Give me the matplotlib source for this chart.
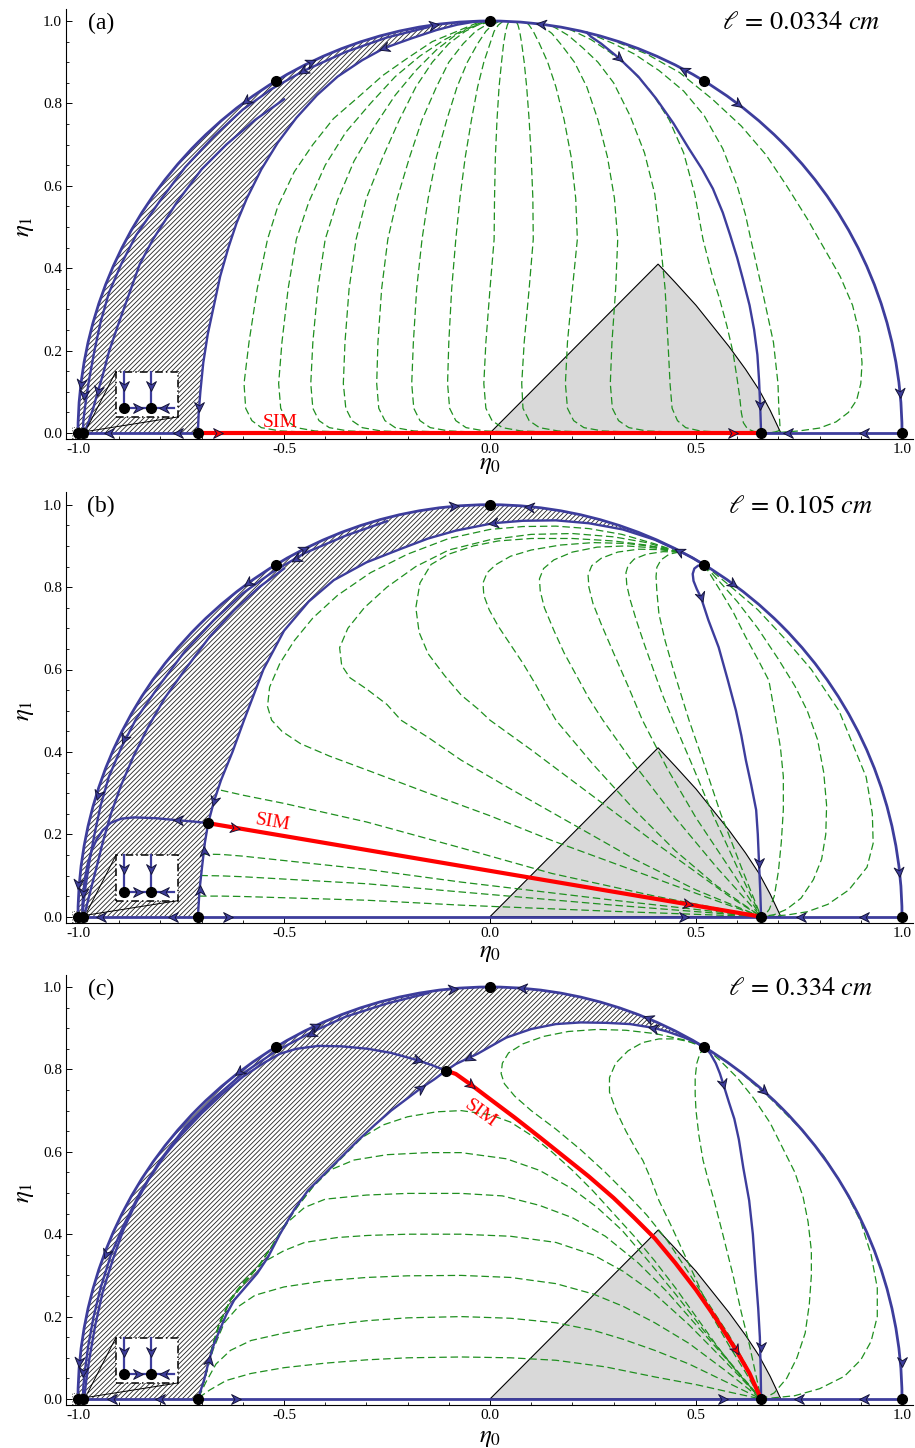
import numpy as np
import matplotlib
matplotlib.use('Agg')
import matplotlib.pyplot as plt
from matplotlib.path import Path
from matplotlib.patches import PathPatch, Arc, Rectangle, Polygon
from matplotlib.markers import MarkerStyle
from matplotlib.transforms import Affine2D
from matplotlib.ticker import MultipleLocator

plt.rcParams['font.family'] = ['Liberation Serif', 'DejaVu Serif']
plt.rcParams['mathtext.fontset'] = 'stix'
plt.rcParams['axes.unicode_minus'] = False
plt.rcParams['hatch.linewidth'] = 0.6

BLUE = '#3d3d9c'
GREEN = '#1f8f1f'
RED = '#ff0000'

# ---------------- data ----------------
panel_tags = ['(a)', '(b)', '(c)']
ell_labels = [r'$\ell\,=\,0.0334\ cm$', r'$\ell\,=\,0.105\ cm$', r'$\ell\,=\,0.334\ cm$']
xticks = [-1.0, -0.5, 0.0, 0.5, 1.0]
yticks = [0.0, 0.2, 0.4, 0.6, 0.8, 1.0]
xlabel_y = [-0.078, -0.088, -0.094]

fixed_common = [(-1.0, 0.0), (-0.988, 0.0), (-0.709, 0.0), (0.658, 0.0), (1.0, 0.0),
                (-0.52, 0.854), (0.0, 1.0), (0.52, 0.854)]
sim_start = [None, (-0.684, 0.227), (-0.107, 0.797)]
hatch_start_deg = [90.0, 58.7, 58.5]

# ----- panel (a) -----
a_D = [(0.0, 1.0), (-0.04, 0.998), (-0.08, 0.991), (-0.13, 0.978), (-0.19, 0.958),
       (-0.257, 0.934), (-0.31, 0.905), (-0.37, 0.865), (-0.42, 0.82), (-0.47, 0.765),
       (-0.515, 0.705), (-0.555, 0.64), (-0.59, 0.57), (-0.615, 0.51), (-0.635, 0.45),
       (-0.655, 0.38), (-0.67, 0.31), (-0.685, 0.24), (-0.696, 0.17), (-0.703, 0.1),
       (-0.707, 0.05), (-0.709, 0.0)]
a_B = [(-0.15, 0.985), (-0.25, 0.96), (-0.35, 0.925), (-0.454, 0.878), (-0.53, 0.835),
       (-0.6, 0.785), (-0.67, 0.72), (-0.74, 0.645), (-0.8, 0.565), (-0.859, 0.48),
       (-0.895, 0.41), (-0.925, 0.34), (-0.945, 0.27), (-0.96, 0.2), (-0.973, 0.13),
       (-0.982, 0.07), (-0.987, 0.03), (-0.988, 0.0)]
a_C = [(-0.5, 0.81), (-0.57, 0.76), (-0.64, 0.7), (-0.7, 0.64), (-0.76, 0.56),
       (-0.818, 0.47), (-0.85, 0.41), (-0.875, 0.34), (-0.9, 0.27), (-0.924, 0.2),
       (-0.94, 0.14), (-0.952, 0.1), (-0.963, 0.06), (-0.975, 0.025), (-0.985, 0.0)]
a_E = [(0.235, 0.972), (0.245, 0.962), (0.27, 0.945), (0.313, 0.91), (0.36, 0.865),
       (0.403, 0.812), (0.445, 0.752), (0.483, 0.69), (0.515, 0.64), (0.541, 0.593),
       (0.565, 0.535), (0.583, 0.48), (0.6, 0.425), (0.614, 0.373), (0.63, 0.31),
       (0.641, 0.251), (0.649, 0.19), (0.653, 0.129), (0.656, 0.06), (0.658, 0.0)]
a_sim = [(-0.709, 0.0), (0.658, 0.0)]
a_green = [
    [(-0.03, 0.996), (-0.08, 0.975), (-0.14, 0.95), (-0.2, 0.91), (-0.26, 0.868), (-0.32, 0.815), (-0.38, 0.763), (-0.43, 0.70), (-0.475, 0.634), (-0.515, 0.55), (-0.54, 0.47), (-0.565, 0.35), (-0.585, 0.22), (-0.597, 0.12), (-0.593, 0.06), (-0.578, 0.03), (-0.555, 0.013), (-0.51, 0.005), (-0.44, 0.002), (-0.3, 0.001)],
    [(-0.02, 0.997), (-0.06, 0.98), (-0.11, 0.955), (-0.17, 0.915), (-0.23, 0.865), (-0.29, 0.80), (-0.35, 0.73), (-0.40, 0.65), (-0.44, 0.56), (-0.47, 0.47), (-0.49, 0.35), (-0.505, 0.22), (-0.513, 0.12), (-0.508, 0.06), (-0.493, 0.03), (-0.47, 0.013), (-0.425, 0.005), (-0.35, 0.002), (-0.2, 0.001)],
    [(-0.01, 0.998), (-0.045, 0.985), (-0.085, 0.965), (-0.13, 0.93), (-0.18, 0.88), (-0.23, 0.82), (-0.28, 0.745), (-0.33, 0.66), (-0.37, 0.565), (-0.40, 0.47), (-0.418, 0.35), (-0.43, 0.22), (-0.435, 0.12), (-0.43, 0.06), (-0.415, 0.03), (-0.39, 0.013), (-0.345, 0.005), (-0.27, 0.002), (-0.1, 0.001)],
    [(0.0, 0.998), (-0.03, 0.99), (-0.06, 0.975), (-0.1, 0.945), (-0.14, 0.9), (-0.18, 0.84), (-0.22, 0.76), (-0.26, 0.67), (-0.30, 0.57), (-0.325, 0.47), (-0.342, 0.35), (-0.352, 0.22), (-0.356, 0.12), (-0.35, 0.06), (-0.335, 0.03), (-0.31, 0.013), (-0.265, 0.005), (-0.19, 0.002), (0.0, 0.001)],
    [(0.01, 0.998), (-0.01, 0.99), (-0.035, 0.975), (-0.065, 0.945), (-0.10, 0.9), (-0.13, 0.84), (-0.165, 0.76), (-0.195, 0.67), (-0.225, 0.57), (-0.248, 0.47), (-0.263, 0.35), (-0.272, 0.22), (-0.275, 0.12), (-0.27, 0.06), (-0.255, 0.03), (-0.23, 0.013), (-0.185, 0.005), (-0.11, 0.002), (0.1, 0.001)],
    [(0.02, 0.998), (0.005, 0.99), (-0.01, 0.975), (-0.03, 0.945), (-0.055, 0.9), (-0.08, 0.84), (-0.105, 0.76), (-0.13, 0.67), (-0.15, 0.57), (-0.165, 0.47), (-0.178, 0.35), (-0.186, 0.22), (-0.19, 0.12), (-0.185, 0.06), (-0.17, 0.03), (-0.145, 0.013), (-0.1, 0.005), (-0.03, 0.002), (0.2, 0.001)],
    [(0.03, 0.998), (0.02, 0.99), (0.01, 0.975), (0.0, 0.945), (-0.015, 0.9), (-0.03, 0.84), (-0.045, 0.76), (-0.06, 0.67), (-0.073, 0.57), (-0.083, 0.47), (-0.093, 0.35), (-0.1, 0.22), (-0.103, 0.12), (-0.098, 0.06), (-0.083, 0.03), (-0.058, 0.013), (-0.013, 0.005), (0.06, 0.002), (0.3, 0.001)],
    [(0.045, 0.997), (0.042, 0.99), (0.038, 0.975), (0.033, 0.945), (0.028, 0.9), (0.022, 0.84), (0.017, 0.76), (0.013, 0.67), (0.011, 0.57), (0.01, 0.47), (0.0, 0.35), (-0.01, 0.22), (-0.015, 0.12), (-0.01, 0.06), (0.005, 0.03), (0.03, 0.013), (0.075, 0.005), (0.15, 0.002), (0.4, 0.001)],
    [(0.065, 0.996), (0.068, 0.99), (0.072, 0.975), (0.077, 0.945), (0.083, 0.9), (0.089, 0.84), (0.095, 0.76), (0.1, 0.67), (0.104, 0.57), (0.105, 0.47), (0.095, 0.35), (0.083, 0.22), (0.077, 0.12), (0.08, 0.06), (0.095, 0.03), (0.12, 0.013), (0.165, 0.005), (0.24, 0.002), (0.5, 0.001)],
    [(0.09, 0.995), (0.095, 0.99), (0.105, 0.975), (0.12, 0.945), (0.14, 0.9), (0.16, 0.84), (0.18, 0.76), (0.197, 0.67), (0.208, 0.57), (0.212, 0.47), (0.2, 0.35), (0.188, 0.22), (0.183, 0.12), (0.188, 0.06), (0.203, 0.03), (0.228, 0.013), (0.273, 0.005), (0.35, 0.002), (0.6, 0.001)],
    [(0.12, 0.992), (0.13, 0.985), (0.15, 0.97), (0.175, 0.94), (0.205, 0.9), (0.235, 0.84), (0.262, 0.76), (0.285, 0.67), (0.302, 0.57), (0.31, 0.47), (0.305, 0.35), (0.296, 0.22), (0.292, 0.12), (0.297, 0.06), (0.312, 0.03), (0.337, 0.013), (0.38, 0.005), (0.45, 0.002), (0.62, 0.001)],
    [(0.15, 0.988), (0.165, 0.98), (0.19, 0.965), (0.225, 0.935), (0.262, 0.9), (0.3, 0.85), (0.34, 0.77), (0.375, 0.68), (0.4, 0.58), (0.413, 0.47), (0.425, 0.35), (0.432, 0.22), (0.437, 0.12), (0.442, 0.06), (0.455, 0.03), (0.475, 0.013), (0.51, 0.005), (0.56, 0.002), (0.64, 0.001)],
    [(0.19, 0.981), (0.21, 0.972), (0.245, 0.955), (0.29, 0.925), (0.34, 0.885), (0.39, 0.83), (0.435, 0.76), (0.47, 0.68), (0.497, 0.58), (0.517, 0.47), (0.54, 0.38), (0.556, 0.33), (0.575, 0.26), (0.59, 0.195), (0.6, 0.13), (0.606, 0.088), (0.61, 0.05), (0.615, 0.025), (0.625, 0.01), (0.64, 0.004), (0.655, 0.001)],
    [(0.26, 0.962), (0.3, 0.945), (0.35, 0.92), (0.41, 0.88), (0.47, 0.83), (0.52, 0.77), (0.565, 0.69), (0.6, 0.6), (0.62, 0.53), (0.633, 0.47), (0.66, 0.35), (0.688, 0.22), (0.699, 0.12), (0.701, 0.06), (0.703, 0.03), (0.704, 0.013), (0.70, 0.005), (0.69, 0.002), (0.675, 0.001)],
    [(0.31, 0.948), (0.38, 0.92), (0.46, 0.875), (0.54, 0.81), (0.61, 0.745), (0.67, 0.675), (0.72, 0.6), (0.77, 0.52), (0.81, 0.45), (0.85, 0.38), (0.88, 0.31), (0.897, 0.24), (0.903, 0.17), (0.9, 0.12), (0.89, 0.08), (0.87, 0.05), (0.84, 0.027), (0.8, 0.012), (0.75, 0.005), (0.71, 0.002), (0.68, 0.001)],
]
a_arrows = [(-0.136, 0.991, 8), (-0.434, 0.901, 26), (-0.592, 0.806, 216), (-0.454, 0.878, 212),
            (-0.257, 0.934, 200), (0.124, 0.992, 173), (0.313, 0.91, -40), (0.471, 0.882, 152),
            (0.602, 0.798, -37), (0.655, 0.068, -90), (0.995, 0.098, -86), (0.723, 0.0, 180),
            (0.908, 0.0, 180), (-0.924, 0.0, 180), (-0.757, 0.0, 180), (-0.706, 0.063, -90),
            (-0.993, 0.12, -97), (-0.985, 0.093, -95), (-0.952, 0.102, -100)]
a_red_arrows = [(-0.66, 0.0, 0), (0.59, 0.0, 0)]
a_sim_label = (-0.51, 0.026, 0)

# ----- panel (b) -----
b_D = [(0.52, 0.854), (0.49, 0.872), (0.459, 0.888), (0.4, 0.915), (0.322, 0.94),
       (0.24, 0.955), (0.16, 0.962), (0.08, 0.961), (0.007, 0.955), (-0.083, 0.937),
       (-0.15, 0.918), (-0.216, 0.893), (-0.3, 0.86), (-0.379, 0.817), (-0.44, 0.765),
       (-0.5, 0.694), (-0.55, 0.6), (-0.597, 0.477), (-0.625, 0.4), (-0.653, 0.331),
       (-0.67, 0.28), (-0.684, 0.227), (-0.692, 0.18), (-0.699, 0.12), (-0.705, 0.065),
       (-0.709, 0.0)]
b_B = [(-0.25, 0.96), (-0.35, 0.925), (-0.451, 0.882), (-0.53, 0.835), (-0.6, 0.785),
       (-0.67, 0.72), (-0.74, 0.645), (-0.8, 0.565), (-0.859, 0.48), (-0.895, 0.41),
       (-0.925, 0.34), (-0.945, 0.27), (-0.96, 0.2), (-0.973, 0.13), (-0.982, 0.07),
       (-0.987, 0.03), (-0.988, 0.0)]
b_C = [(-0.5, 0.845), (-0.56, 0.8), (-0.62, 0.745), (-0.68, 0.68), (-0.74, 0.6),
       (-0.79, 0.53), (-0.83, 0.46), (-0.865, 0.39), (-0.895, 0.32), (-0.92, 0.25),
       (-0.94, 0.18), (-0.955, 0.12), (-0.968, 0.07), (-0.978, 0.03), (-0.985, 0.0)]
b_F = [(-0.684, 0.227), (-0.72, 0.231), (-0.757, 0.234), (-0.81, 0.239), (-0.864, 0.241),
       (-0.895, 0.238), (-0.92, 0.228), (-0.94, 0.21), (-0.955, 0.187), (-0.967, 0.16),
       (-0.976, 0.13), (-0.983, 0.095), (-0.987, 0.06), (-0.989, 0.03), (-0.99, 0.0)]
b_E = [(0.52, 0.854), (0.505, 0.852), (0.496, 0.845), (0.492, 0.832), (0.494, 0.815),
       (0.502, 0.795), (0.512, 0.775), (0.53, 0.72), (0.555, 0.654), (0.577, 0.575),
       (0.597, 0.5), (0.61, 0.44), (0.621, 0.38), (0.634, 0.32), (0.646, 0.259),
       (0.65, 0.2), (0.653, 0.13), (0.656, 0.06), (0.658, 0.0)]
b_sim = [(-0.684, 0.227), (0.658, 0.0)]
b_green = [
    [(0.459, 0.885), (0.4, 0.905), (0.32, 0.928), (0.24, 0.942), (0.16, 0.948), (0.08, 0.947), (0.0, 0.94), (-0.1, 0.918), (-0.2, 0.88), (-0.29, 0.835), (-0.37, 0.78), (-0.43, 0.725), (-0.475, 0.67), (-0.51, 0.615), (-0.535, 0.557), (-0.54, 0.51), (-0.53, 0.477), (-0.505, 0.45), (-0.46, 0.42), (-0.39, 0.39), (-0.296, 0.355), (-0.15, 0.3), (0.0, 0.245), (0.15, 0.185), (0.3, 0.13), (0.45, 0.075), (0.56, 0.035), (0.658, 0.0)],
    [(0.459, 0.885), (0.38, 0.908), (0.3, 0.922), (0.2, 0.93), (0.1, 0.928), (0.0, 0.915), (-0.1, 0.89), (-0.18, 0.85), (-0.25, 0.8), (-0.305, 0.75), (-0.345, 0.7), (-0.365, 0.653), (-0.36, 0.61), (-0.34, 0.58), (-0.3, 0.553), (-0.25, 0.515), (-0.216, 0.477), (-0.15, 0.435), (-0.07, 0.38), (0.05, 0.31), (0.2, 0.225), (0.35, 0.14), (0.5, 0.065), (0.658, 0.0)],
    [(0.459, 0.885), (0.38, 0.902), (0.3, 0.912), (0.2, 0.918), (0.1, 0.918), (0.02, 0.912), (-0.04, 0.9), (-0.1, 0.88), (-0.143, 0.855), (-0.17, 0.81), (-0.18, 0.75), (-0.172, 0.69), (-0.15, 0.638), (-0.11, 0.585), (-0.07, 0.538), (-0.03, 0.505), (0.0, 0.477), (0.1, 0.405), (0.2, 0.33), (0.3, 0.255), (0.4, 0.18), (0.5, 0.108), (0.58, 0.05), (0.658, 0.0)],
    [(0.459, 0.885), (0.4, 0.898), (0.33, 0.906), (0.25, 0.908), (0.17, 0.902), (0.1, 0.89), (0.05, 0.875), (0.015, 0.855), (-0.007, 0.835), (-0.017, 0.81), (-0.015, 0.78), (-0.002, 0.745), (0.02, 0.705), (0.05, 0.66), (0.08, 0.615), (0.11, 0.565), (0.135, 0.52), (0.16, 0.477), (0.25, 0.37), (0.35, 0.26), (0.45, 0.16), (0.55, 0.075), (0.658, 0.0)],
    [(0.459, 0.885), (0.4, 0.895), (0.33, 0.9), (0.26, 0.897), (0.2, 0.885), (0.155, 0.866), (0.13, 0.845), (0.12, 0.82), (0.122, 0.79), (0.132, 0.75), (0.155, 0.695), (0.18, 0.64), (0.21, 0.585), (0.24, 0.53), (0.274, 0.477), (0.35, 0.37), (0.45, 0.24), (0.55, 0.12), (0.658, 0.0)],
    [(0.459, 0.885), (0.41, 0.891), (0.36, 0.892), (0.31, 0.885), (0.27, 0.87), (0.247, 0.852), (0.238, 0.83), (0.24, 0.8), (0.25, 0.76), (0.27, 0.71), (0.3, 0.64), (0.335, 0.56), (0.37, 0.477), (0.43, 0.36), (0.5, 0.24), (0.58, 0.12), (0.658, 0.0)],
    [(0.459, 0.885), (0.42, 0.886), (0.38, 0.88), (0.35, 0.868), (0.335, 0.852), (0.33, 0.835), (0.332, 0.805), (0.34, 0.77), (0.355, 0.72), (0.375, 0.66), (0.4, 0.59), (0.42, 0.535), (0.444, 0.477), (0.49, 0.37), (0.54, 0.25), (0.6, 0.12), (0.658, 0.0)],
    [(0.459, 0.885), (0.435, 0.88), (0.415, 0.866), (0.405, 0.848), (0.403, 0.825), (0.405, 0.79), (0.41, 0.735), (0.425, 0.67), (0.445, 0.6), (0.465, 0.535), (0.483, 0.477), (0.52, 0.37), (0.56, 0.25), (0.61, 0.12), (0.658, 0.0)],
    [(-0.653, 0.307), (-0.6, 0.295), (-0.5, 0.275), (-0.3, 0.23), (-0.07, 0.167), (0.15, 0.105), (0.4, 0.05), (0.658, 0.0)],
    [(-0.70, 0.152), (-0.65, 0.151), (-0.6, 0.147), (-0.3, 0.115), (-0.07, 0.084), (0.3, 0.04), (0.658, 0.0)],
    [(-0.703, 0.10), (-0.65, 0.099), (-0.6, 0.097), (-0.3, 0.08), (-0.07, 0.06), (0.3, 0.028), (0.658, 0.0)],
    [(-0.706, 0.05), (-0.65, 0.05), (-0.6, 0.049), (-0.3, 0.04), (-0.07, 0.028), (0.3, 0.013), (0.658, 0.0)],
    [(0.52, 0.854), (0.535, 0.83), (0.56, 0.79), (0.59, 0.74), (0.62, 0.68), (0.65, 0.625), (0.677, 0.573), (0.694, 0.477), (0.705, 0.41), (0.712, 0.34), (0.712, 0.26), (0.707, 0.18), (0.7, 0.11), (0.69, 0.05), (0.678, 0.018), (0.668, 0.005), (0.658, 0.0)],
    [(0.52, 0.854), (0.56, 0.81), (0.6, 0.765), (0.65, 0.7), (0.7, 0.625), (0.74, 0.56), (0.77, 0.5), (0.795, 0.43), (0.81, 0.35), (0.817, 0.27), (0.815, 0.2), (0.805, 0.14), (0.785, 0.09), (0.755, 0.045), (0.72, 0.018), (0.69, 0.005), (0.66, 0.0)],
    [(0.52, 0.854), (0.58, 0.805), (0.65, 0.745), (0.72, 0.67), (0.78, 0.6), (0.82, 0.54), (0.847, 0.5), (0.88, 0.42), (0.913, 0.339), (0.928, 0.25), (0.93, 0.178), (0.915, 0.12), (0.871, 0.065), (0.82, 0.03), (0.77, 0.012), (0.72, 0.004), (0.66, 0.0)],
]
b_arrows = [(-0.587, 0.81, 216), (-0.451, 0.892, 27), (-0.471, 0.869, 210), (-0.087, 0.996, 5),
            (0.095, 0.995, 175), (0.007, 0.955, 188), (0.459, 0.888, 153), (0.59, 0.807, -36),
            (0.512, 0.775, -72), (-0.888, 0.432, 245), (-0.952, 0.295, 255), (-1.0, 0.08, -95),
            (-0.988, 0.058, -95), (-0.67, 0.28, -105), (-0.757, 0.234, 178), (-0.694, 0.16, 95),
            (-0.705, 0.065, 90), (-0.944, 0.0, 180), (-0.77, 0.0, 180), (-0.636, 0.0, 0),
            (0.47, 0.0, 0), (0.755, 0.0, 180), (0.908, 0.0, 180), (0.653, 0.13, -90),
            (0.993, 0.108, -85)]
b_red_arrows = [(-0.62, 0.216, -9.6), (0.48, 0.030, -9.6)]
b_sim_label = (-0.528, 0.228, -9.6)

# ----- panel (c) -----
c_D = [(0.524, 0.852), (0.5, 0.865), (0.47, 0.878), (0.43, 0.892), (0.396, 0.901),
       (0.34, 0.91), (0.282, 0.913), (0.22, 0.914), (0.16, 0.91), (0.1, 0.898),
       (0.039, 0.877), (0.0, 0.855), (-0.03, 0.838), (-0.051, 0.828), (-0.083, 0.813),
       (-0.107, 0.797)]
c_G = [(-0.107, 0.797), (-0.135, 0.776), (-0.167, 0.755), (-0.2, 0.73), (-0.24, 0.70),
       (-0.28, 0.665), (-0.32, 0.628), (-0.36, 0.588), (-0.4, 0.548), (-0.442, 0.506),
       (-0.475, 0.46), (-0.51, 0.4), (-0.539, 0.344), (-0.565, 0.305), (-0.595, 0.27),
       (-0.621, 0.24), (-0.64, 0.205), (-0.655, 0.17), (-0.67, 0.133), (-0.682, 0.094),
       (-0.694, 0.046), (-0.709, 0.0)]
c_B = [(-0.15, 0.985), (-0.25, 0.96), (-0.35, 0.928), (-0.434, 0.89), (-0.52, 0.844),
       (-0.6, 0.79), (-0.67, 0.73), (-0.74, 0.66), (-0.8, 0.58), (-0.85, 0.5),
       (-0.89, 0.42), (-0.92, 0.35), (-0.945, 0.27), (-0.962, 0.2), (-0.975, 0.13),
       (-0.983, 0.07), (-0.987, 0.03), (-0.988, 0.0)]
c_F = [(-0.107, 0.797), (-0.14, 0.81), (-0.175, 0.822), (-0.24, 0.84), (-0.296, 0.85),
       (-0.36, 0.856), (-0.417, 0.857), (-0.47, 0.85), (-0.51, 0.838), (-0.55, 0.815),
       (-0.6, 0.782), (-0.65, 0.74), (-0.7, 0.693), (-0.75, 0.64), (-0.79, 0.59),
       (-0.83, 0.53), (-0.86, 0.475), (-0.89, 0.41), (-0.915, 0.34), (-0.94, 0.26),
       (-0.958, 0.18), (-0.972, 0.1), (-0.98, 0.045), (-0.985, 0.0)]
c_E = [(0.524, 0.852), (0.535, 0.838), (0.548, 0.815), (0.558, 0.79), (0.566, 0.765),
       (0.58, 0.72), (0.593, 0.68), (0.604, 0.63), (0.615, 0.56), (0.629, 0.482),
       (0.638, 0.4), (0.645, 0.3), (0.651, 0.22), (0.655, 0.15), (0.657, 0.07), (0.658, 0.0)]
c_sim = [(-0.107, 0.797), (-0.083, 0.789), (-0.045, 0.762), (0.0, 0.728), (0.06, 0.683),
         (0.12, 0.636), (0.18, 0.588), (0.24, 0.54), (0.3, 0.488), (0.35, 0.44),
         (0.4, 0.39), (0.45, 0.33), (0.5, 0.265), (0.55, 0.193), (0.597, 0.119),
         (0.63, 0.062), (0.658, 0.0)]
c_lower = [(-0.707, 0.004), (-0.692, 0.05), (-0.676, 0.12), (-0.658, 0.18), (-0.63, 0.24),
           (-0.598, 0.28), (-0.56, 0.325), (-0.53, 0.37), (-0.5, 0.42), (-0.465, 0.47),
           (-0.43, 0.515), (-0.39, 0.555)]
c_green = [
    [(-0.707, 0.003), (-0.68, 0.022), (-0.64, 0.045), (-0.58, 0.062), (-0.5, 0.076), (-0.4, 0.087), (-0.3, 0.095), (-0.2, 0.1), (-0.07, 0.102), (0.05, 0.1), (0.16, 0.094), (0.28, 0.078), (0.403, 0.053), (0.5, 0.035), (0.58, 0.017), (0.658, 0.0)],
    [(-0.707, 0.004), (-0.69, 0.04), (-0.665, 0.085), (-0.63, 0.118), (-0.58, 0.142), (-0.5, 0.16), (-0.4, 0.178), (-0.3, 0.19), (-0.2, 0.197), (-0.07, 0.2), (0.05, 0.196), (0.16, 0.185), (0.25, 0.167), (0.323, 0.145), (0.4, 0.118), (0.483, 0.085), (0.57, 0.043), (0.658, 0.0)],
    [(-0.707, 0.004), (-0.692, 0.05), (-0.672, 0.12), (-0.645, 0.185), (-0.61, 0.225), (-0.57, 0.252), (-0.5, 0.272), (-0.4, 0.287), (-0.3, 0.295), (-0.2, 0.299), (-0.07, 0.30), (0.05, 0.295), (0.16, 0.28), (0.25, 0.255), (0.323, 0.225), (0.4, 0.185), (0.483, 0.135), (0.57, 0.07), (0.658, 0.0)],
    [(-0.707, 0.004), (-0.692, 0.05), (-0.675, 0.12), (-0.655, 0.19), (-0.625, 0.25), (-0.59, 0.295), (-0.545, 0.335), (-0.5, 0.36), (-0.45, 0.38), (-0.37, 0.392), (-0.296, 0.397), (-0.2, 0.4), (-0.07, 0.40), (0.05, 0.395), (0.16, 0.38), (0.25, 0.35), (0.323, 0.31), (0.4, 0.255), (0.483, 0.18), (0.57, 0.092), (0.658, 0.0)],
    c_lower[:8] + [(-0.49, 0.43), (-0.45, 0.465), (-0.4, 0.485), (-0.3, 0.495), (-0.2, 0.499), (-0.07, 0.499), (0.03, 0.493), (0.12, 0.47), (0.2, 0.44), (0.28, 0.395), (0.36, 0.33), (0.43, 0.26), (0.5, 0.18), (0.58, 0.09), (0.658, 0.0)],
    c_lower + [(-0.33, 0.58), (-0.25, 0.593), (-0.15, 0.598), (-0.07, 0.598), (0.04, 0.583), (0.12, 0.555), (0.2, 0.51), (0.26, 0.465), (0.32, 0.41), (0.38, 0.34), (0.45, 0.255), (0.52, 0.165), (0.59, 0.08), (0.658, 0.0)],
    c_lower + [(-0.35, 0.595), (-0.31, 0.635), (-0.26, 0.665), (-0.2, 0.685), (-0.13, 0.697), (-0.07, 0.70), (0.0, 0.69), (0.05, 0.672), (0.1, 0.64), (0.15, 0.6), (0.2, 0.555), (0.25, 0.505), (0.3, 0.45), (0.35, 0.395), (0.4, 0.335), (0.45, 0.27), (0.5, 0.2), (0.55, 0.13), (0.6, 0.065), (0.658, 0.0)],
    [(0.524, 0.852), (0.47, 0.872), (0.40, 0.887), (0.33, 0.895), (0.26, 0.897), (0.19, 0.892), (0.13, 0.88), (0.08, 0.862), (0.045, 0.84), (0.03, 0.815), (0.027, 0.79), (0.035, 0.765), (0.06, 0.735), (0.1, 0.7), (0.16, 0.655), (0.22, 0.605), (0.28, 0.55), (0.33, 0.5), (0.38, 0.447), (0.43, 0.385), (0.48, 0.31), (0.53, 0.232), (0.58, 0.155), (0.62, 0.085), (0.658, 0.0)],
    [(0.524, 0.852), (0.49, 0.866), (0.45, 0.874), (0.41, 0.874), (0.37, 0.865), (0.335, 0.845), (0.305, 0.815), (0.29, 0.78), (0.29, 0.745), (0.306, 0.70), (0.33, 0.65), (0.355, 0.605), (0.371, 0.579), (0.39, 0.535), (0.41, 0.482), (0.44, 0.42), (0.47, 0.355), (0.5, 0.29), (0.54, 0.2), (0.58, 0.13), (0.62, 0.065), (0.658, 0.0)],
    [(0.524, 0.852), (0.51, 0.84), (0.502, 0.815), (0.498, 0.78), (0.498, 0.74), (0.5, 0.70), (0.507, 0.64), (0.517, 0.58), (0.53, 0.53), (0.544, 0.482), (0.565, 0.4), (0.59, 0.3), (0.61, 0.21), (0.63, 0.13), (0.645, 0.06), (0.658, 0.0)],
    [(0.524, 0.852), (0.56, 0.82), (0.6, 0.78), (0.64, 0.73), (0.68, 0.67), (0.71, 0.61), (0.74, 0.55), (0.76, 0.49), (0.772, 0.43), (0.78, 0.36), (0.78, 0.3), (0.775, 0.23), (0.765, 0.16), (0.745, 0.1), (0.72, 0.05), (0.69, 0.015), (0.67, 0.004), (0.658, 0.0)],
    [(0.524, 0.852), (0.6, 0.8), (0.68, 0.73), (0.75, 0.66), (0.81, 0.59), (0.86, 0.51), (0.9, 0.43), (0.925, 0.35), (0.94, 0.27), (0.94, 0.2), (0.925, 0.14), (0.9, 0.095), (0.86, 0.055), (0.8, 0.025), (0.74, 0.008), (0.68, 0.002)],
]
c_arrows = [(-0.422, 0.905, 25), (-0.434, 0.886, 210), (-0.609, 0.793, 217), (-0.175, 0.822, -15),
            (-0.167, 0.755, 35), (-0.09, 0.996, 5), (0.077, 0.997, 176), (0.383, 0.924, 158),
            (0.396, 0.901, 168), (-0.051, 0.828, 210), (0.566, 0.765, -75), (0.665, 0.747, -42),
            (-0.932, 0.353, 250), (-0.998, 0.09, -95), (-0.988, 0.066, -95), (-0.682, 0.094, 80),
            (-0.918, 0.0, 180), (-0.80, 0.0, 180), (-0.617, 0.0, 0), (0.566, 0.0, 0),
            (0.75, 0.0, 180), (0.908, 0.0, 180), (0.658, 0.126, -90), (1.0, 0.09, -90)]
c_red_arrows = [(-0.045, 0.762, -38), (0.597, 0.119, -58)]
c_sim_label = (-0.024, 0.692, -36)

# inset (same in every panel)
inset_box = (-0.908, 0.039, 0.151, 0.110)
inset_vlines = [(-0.888, 0.149, 0.061), (-0.823, 0.149, 0.061)]
inset_hline = (-0.888, -0.767, 0.061)
inset_dots = [(-0.888, 0.061), (-0.823, 0.061)]
inset_arrows = [(-0.888, 0.115, -90), (-0.823, 0.115, -90), (-0.855, 0.061, 0), (-0.791, 0.061, 180)]
zoom_box = (-1.015, -0.013, 0.037, 0.028)
zoom_lines = [[(-0.978, 0.012), (-0.908, 0.149)], [(-0.978, 0.004), (-0.757, 0.039)]]

# triangle (same in every panel)
tri = [(0.0, 0.0), (0.408, 0.41), (0.45, 0.365), (0.5, 0.31), (0.54, 0.26), (0.58, 0.21),
       (0.62, 0.155), (0.653, 0.105), (0.68, 0.055), (0.706, 0.0)]

# ---------------- drawing ----------------
CHEV = Path([(-1, 1), (1, 0), (-1, -1), (-0.35, 0), (-1, 1)],
            [Path.MOVETO, Path.LINETO, Path.LINETO, Path.LINETO, Path.CLOSEPOLY])


def arrow(ax, x, y, ang, fc, size=7):
    m = MarkerStyle(CHEV, transform=Affine2D().rotate_deg(ang))
    ax.plot([x], [y], marker=m, ms=size, mfc=fc, mec='#15153a', mew=0.7,
            ls='none', zorder=7)


def line(ax, pts, **kw):
    ax.plot([p[0] for p in pts], [p[1] for p in pts], **kw)


def hatch_region(ax, start_deg, inner):
    arc = Path.arc(start_deg, 180)
    verts = list(arc.vertices) + list(inner[::-1]) + [(0, 0)]
    codes = list(arc.codes) + [Path.LINETO] * len(inner) + [Path.CLOSEPOLY]
    ax.add_patch(PathPatch(Path(verts, codes), facecolor='none', edgecolor='#222222',
                           hatch='///////', lw=0, zorder=1))


fig = plt.figure(figsize=(9.15, 14.48), dpi=100)
W, H = 915.0, 1448.0
SC = 412.0
xlo, xhi = -1.029, 1.027
ylo, yhi = -0.015, 1.03
zero_px = [433.0, 916.7, 1399.0]

panels = [
    dict(D=a_D, B=a_B, C=a_C, E=a_E, F=None, G=None, sim=a_sim, green=a_green,
         arrows=a_arrows, red=a_red_arrows, lab=a_sim_label),
    dict(D=b_D, B=b_B, C=b_C, E=b_E, F=b_F, G=None, sim=b_sim, green=b_green,
         arrows=b_arrows, red=b_red_arrows, lab=b_sim_label),
    dict(D=c_D, B=c_B, C=None, E=c_E, F=c_F, G=c_G, sim=c_sim, green=c_green,
         arrows=c_arrows, red=c_red_arrows, lab=c_sim_label),
]

for i, p in enumerate(panels):
    bottom_px = zero_px[i] - ylo * SC
    height_px = (yhi - ylo) * SC
    left_px = 78.0 + (xlo + 1.0) * SC
    width_px = (xhi - xlo) * SC
    ax = fig.add_axes([left_px / W, 1 - bottom_px / H, width_px / W, height_px / H])
    ax.set_xlim(xlo, xhi)
    ax.set_ylim(ylo, yhi)
    ax.patch.set_alpha(0)
    for s in ['top', 'right']:
        ax.spines[s].set_visible(False)
    ax.spines['left'].set_linewidth(0.8)
    ax.spines['bottom'].set_linewidth(0.8)
    ax.set_xticks(xticks)
    ax.set_xticklabels(['%.1f' % t for t in xticks])
    ax.set_yticks(yticks)
    ax.set_yticklabels(['%.1f' % t for t in yticks])
    ax.xaxis.set_minor_locator(MultipleLocator(0.1))
    ax.yaxis.set_minor_locator(MultipleLocator(0.05))
    ax.tick_params(which='major', direction='in', length=4, width=0.7, labelsize=11, pad=3)
    ax.tick_params(which='minor', direction='in', length=2, width=0.6)

    inner = p['D'] if p['G'] is None else p['D'] + p['G'][1:]
    hatch_region(ax, hatch_start_deg[i], inner)

    ax.add_patch(Polygon(tri, closed=True, facecolor='#d9d9d9', edgecolor='black',
                         lw=0.8, zorder=2))

    for g in p['green']:
        line(ax, g, color=GREEN, lw=0.9, ls=(0, (6, 3)), zorder=3)

    ax.add_patch(Arc((0, 0), 2, 2, theta1=0, theta2=180, color=BLUE, lw=2.0, zorder=4))
    ax.plot([-1.0, 1.0], [0.0, 0.0], color=BLUE, lw=2.0, zorder=4)
    for key in ['D', 'B', 'C', 'E', 'F', 'G']:
        if p[key] is not None:
            line(ax, p[key], color=BLUE, lw=1.7, zorder=4)

    line(ax, p['sim'], color=RED, lw=3.0, zorder=5, solid_capstyle='butt')
    lx, ly, lr = p['lab']
    ax.text(lx, ly, 'SIM', color=RED, fontsize=14, ha='center', va='center',
            rotation=lr, rotation_mode='anchor', zorder=6)

    bx, by, bw, bh = inset_box
    ax.add_patch(Rectangle((bx, by), bw, bh, facecolor='white', edgecolor='black',
                           lw=1.1, ls=(0, (5, 2, 1, 2)), zorder=5))
    for (vx, vt, vb) in inset_vlines:
        ax.plot([vx, vx], [vt, vb], color=BLUE, lw=1.6, zorder=6)
    ax.plot([inset_hline[0], inset_hline[1]], [inset_hline[2], inset_hline[2]],
            color=BLUE, lw=1.6, zorder=6)
    ax.plot([d[0] for d in inset_dots], [d[1] for d in inset_dots], 'o', color='black',
            ms=7, zorder=8)
    for (x, y, a) in inset_arrows:
        arrow(ax, x, y, a, BLUE)
    zx, zy, zw, zh = zoom_box
    ax.add_patch(Rectangle((zx, zy), zw, zh, facecolor='none', edgecolor='#555555',
                           lw=0.7, ls=':', zorder=8, clip_on=False))
    for seg in zoom_lines:
        line(ax, seg, color='black', lw=0.7, zorder=5)

    for (x, y, a) in p['arrows']:
        arrow(ax, x, y, a, BLUE)
    for (x, y, a) in p['red']:
        arrow(ax, x, y, a, RED)

    pts = list(fixed_common)
    if sim_start[i] is not None:
        pts.append(sim_start[i])
    ax.plot([q[0] for q in pts], [q[1] for q in pts], 'o', color='black', ms=7,
            zorder=9, clip_on=False)

    ax.text(-0.945, 0.995, panel_tags[i], fontsize=17, ha='center', va='center')
    ax.text(0.755, 0.995, ell_labels[i], fontsize=19, ha='center', va='center')
    ax.text(0.0, xlabel_y[i], r'$\eta_0$', fontsize=18, ha='center', va='center', clip_on=False)
    ax.text(-1.128, 0.5, r'$\eta_1$', fontsize=18, ha='center', va='center',
            rotation=90, clip_on=False)

fig.savefig('out.png', dpi=100)
